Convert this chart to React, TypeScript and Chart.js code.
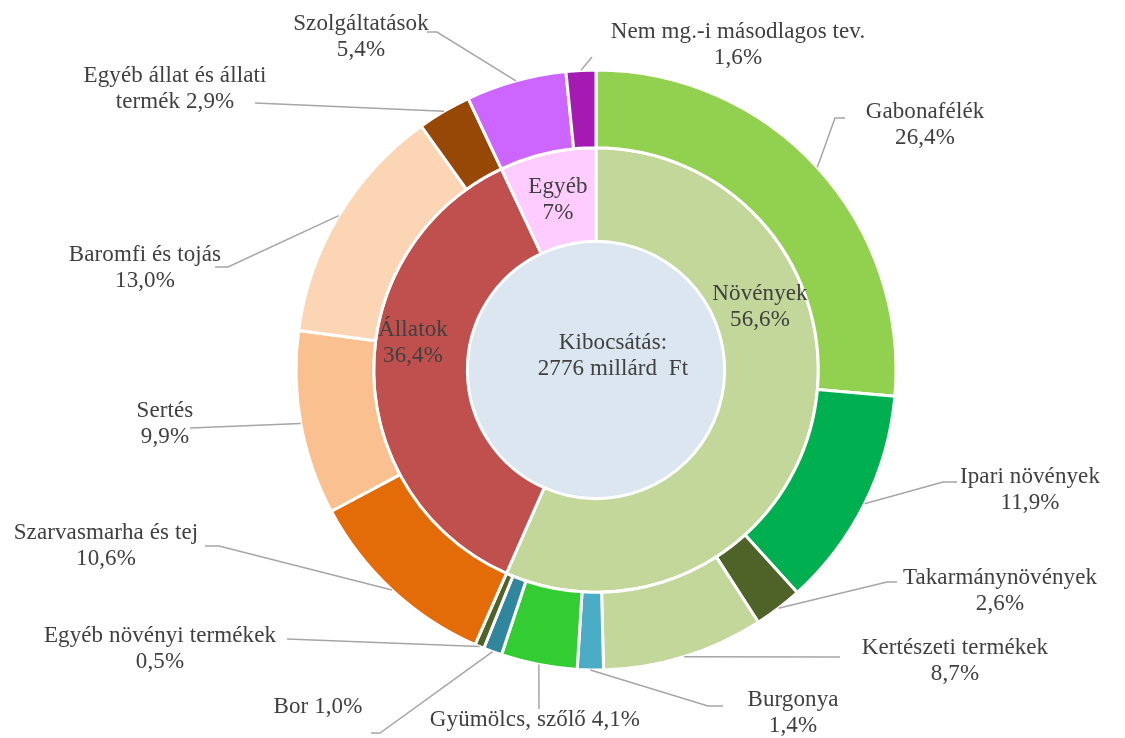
import React, { useEffect, useRef } from "react";
import { Chart, registerables } from "chart.js";

Chart.register(...registerables);

// ---------- DATA ----------
const outerCategories = [
  "Gabonafélék",
  "Ipari növények",
  "Takarmánynövények",
  "Kertészeti termékek",
  "Burgonya",
  "Gyümölcs, szőlő",
  "Bor",
  "Egyéb növényi termékek",
  "Szarvasmarha és tej",
  "Sertés",
  "Baromfi és tojás",
  "Egyéb állat és állati termék",
  "Szolgáltatások",
  "Nem mg.-i másodlagos tev.",
];
const outerValues = [26.4, 11.9, 2.6, 8.7, 1.4, 4.1, 1.0, 0.5, 10.6, 9.9, 13.0, 2.9, 5.4, 1.6];
const outerColors = [
  "#92d050",
  "#00b050",
  "#4f6228",
  "#c4d79b",
  "#4bacc6",
  "#33cc33",
  "#31859c",
  "#4f6228",
  "#e36c09",
  "#fac090",
  "#fcd5b5",
  "#974806",
  "#cc66ff",
  "#a61ab4",
];

const innerCategories = ["Növények", "Állatok", "Egyéb"];
const innerValues = [56.6, 36.4, 7];
const innerColors = ["#c4d79b", "#c0504d", "#ffccff"];

const centerLines = ["Kibocsátás:", "2776 millárd  Ft"];

// ---------- LAYOUT (positions of label texts & leader-line waypoints) ----------
type Pt = [number, number];
type OuterLayout = { x: number; y: number; mode: "two" | "one" | "break"; breakWords?: number; path: Pt[] };
const outerLabelLayout: OuterLayout[] = [
  { x: 925, y: 112, mode: "two", path: [[835, 118], [845, 118]] },
  { x: 1030, y: 477, mode: "two", path: [[943, 482], [957, 482]] },
  { x: 1000, y: 578, mode: "two", path: [[887, 582], [897, 582]] },
  { x: 955, y: 648, mode: "two", path: [[840, 657]] },
  { x: 793, y: 700, mode: "two", path: [[708, 706], [723, 706]] },
  { x: 535, y: 720, mode: "one", path: [[539, 709]] },
  { x: 318, y: 707, mode: "one", path: [[380, 733], [371, 733]] },
  { x: 160, y: 636, mode: "two", path: [[287, 639]] },
  { x: 106, y: 533, mode: "two", path: [[219, 546], [205, 546]] },
  { x: 165, y: 411, mode: "two", path: [[190, 428]] },
  { x: 145, y: 255, mode: "two", path: [[228, 267], [215, 267]] },
  { x: 175, y: 76, mode: "break", breakWords: 4, path: [[255, 103]] },
  { x: 361, y: 24, mode: "two", path: [[437, 32], [427, 32]] },
  { x: 738, y: 32, mode: "two", path: [[592, 57]] },
];
const innerLabelLayout: Pt[] = [
  [760, 294],
  [413, 330],
  [558, 187],
];
const centerTextPos: Pt = [613, 343];

const FONT = "23px 'Liberation Serif', 'Times New Roman', serif";
const TEXT_COLOR = "#404040";
const LINE_H = 26;

const fmtOuter = (v: number) => v.toFixed(1).replace(".", ",") + "%";
const fmtInner = (v: number) => (Number.isInteger(v) ? String(v) : v.toFixed(1).replace(".", ",")) + "%";

function drawLines(ctx: CanvasRenderingContext2D, lines: string[], x: number, y: number) {
  lines.forEach((l, i) => ctx.fillText(l, x, y + i * LINE_H));
}

const labelPlugin = {
  id: "customLabels",
  beforeDatasetsDraw(chart: any) {
    const ctx: CanvasRenderingContext2D = chart.ctx;
    const innerMeta = chart.getDatasetMeta(1);
    const arc = innerMeta.data[0];
    if (!arc) return;
    const r = arc.innerRadius;
    ctx.save();
    ctx.beginPath();
    ctx.arc(arc.x, arc.y, r, 0, Math.PI * 2);
    ctx.fillStyle = "#dce6f1";
    ctx.fill();
    ctx.restore();
  },
  afterDraw(chart: any) {
    const ctx: CanvasRenderingContext2D = chart.ctx;
    ctx.save();
    ctx.font = FONT;
    (ctx as any).letterSpacing = "0.1px";
    ctx.fillStyle = TEXT_COLOR;
    ctx.textAlign = "center";
    ctx.textBaseline = "middle";

    // outer labels with leader lines
    const outerMeta = chart.getDatasetMeta(0);
    outerMeta.data.forEach((el: any, i: number) => {
      const lay = outerLabelLayout[i];
      const mid = (el.startAngle + el.endAngle) / 2;
      const ax = el.x + Math.cos(mid) * el.outerRadius;
      const ay = el.y + Math.sin(mid) * el.outerRadius;
      ctx.beginPath();
      ctx.moveTo(ax, ay);
      lay.path.forEach((p) => ctx.lineTo(p[0], p[1]));
      ctx.strokeStyle = "#a6a6a6";
      ctx.lineWidth = 1.5;
      ctx.stroke();

      const name = outerCategories[i];
      const val = fmtOuter(outerValues[i]);
      let lines: string[];
      if (lay.mode === "one") lines = [name + " " + val];
      else if (lay.mode === "break") {
        const words = name.split(" ");
        lines = [words.slice(0, lay.breakWords).join(" "), words.slice(lay.breakWords).join(" ") + " " + val];
      } else lines = [name, val];
      drawLines(ctx, lines, lay.x, lay.y);
    });

    // inner labels
    innerCategories.forEach((c, i) => {
      const [x, y] = innerLabelLayout[i];
      drawLines(ctx, [c, fmtInner(innerValues[i])], x, y);
    });

    // center text
    drawLines(ctx, centerLines, centerTextPos[0], centerTextPos[1]);
    ctx.restore();
  },
};

export default function App() {
  const ref = useRef<HTMLCanvasElement | null>(null);
  useEffect(() => {
    if (!ref.current) return;
    const chart = new Chart(ref.current, {
      type: "doughnut",
      data: {
        labels: outerCategories,
        datasets: [
          {
            data: outerValues,
            backgroundColor: outerColors,
            borderColor: "#ffffff",
            borderWidth: 3,
            weight: 78,
          } as any,
          {
            data: innerValues,
            backgroundColor: innerColors,
            borderColor: "#ffffff",
            borderWidth: 3,
            weight: 94,
          } as any,
        ],
      },
      options: {
        animation: false,
        responsive: false,
        devicePixelRatio: 1,
        radius: 300,
        cutout: 128,
        layout: { padding: { left: 296, right: 229, top: 70, bottom: 68 } },
        plugins: { legend: { display: false }, tooltip: { enabled: false } },
      } as any,
      plugins: [labelPlugin],
    });
    return () => chart.destroy();
  }, []);
  return (
    <div style={{ position: "fixed", left: 0, top: 0, width: 1125, height: 738, background: "#ffffff" }}>
      <canvas ref={ref} width={1125} height={738} />
    </div>
  );
}
